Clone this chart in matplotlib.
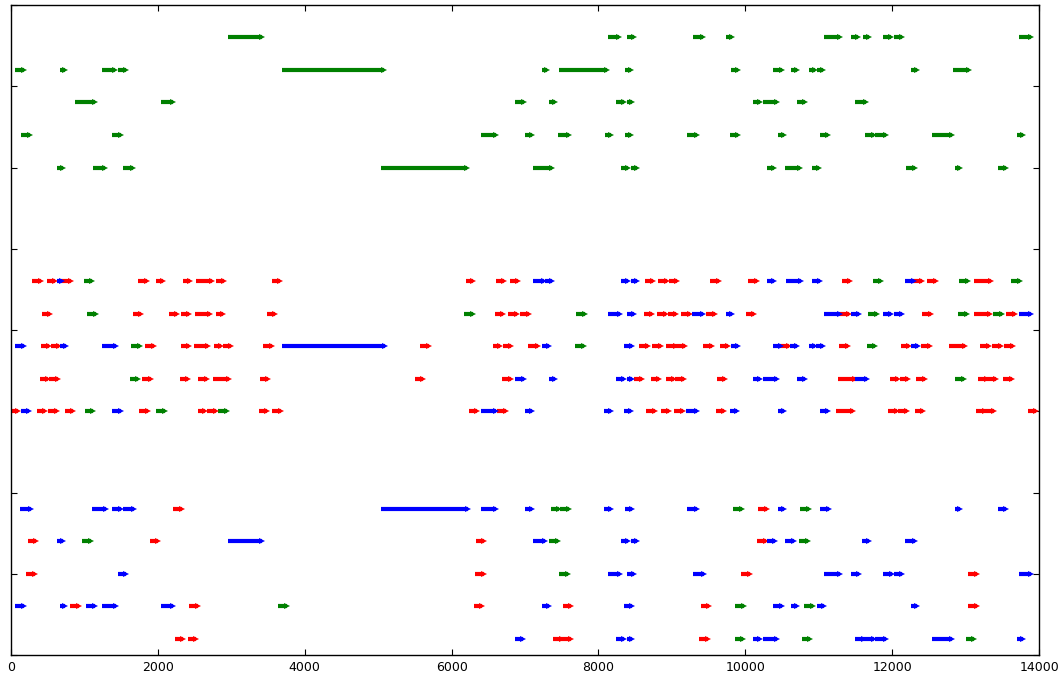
import matplotlib
matplotlib.use("Agg")
import matplotlib.pyplot as plt

# ---------------- data: (row, start, end) per series ----------------
ROW_LEVELS = [1, 3, 5, 7, 9, 15, 17, 19, 21, 23, 30, 32, 34, 36, 38]
X_TICKS = [0, 2000, 4000, 6000, 8000, 10000, 12000, 14000]

GREEN_SEGMENTS = [
    (38, 2960, 3420), (38, 8125, 8285), (38, 8395, 8485), (38, 9285, 9425), (38, 9730, 9825),
    (38, 11075, 11285), (38, 11440, 11535), (38, 11600, 11690), (38, 11875, 11990),
    (38, 12030, 12130), (38, 13730, 13890),
    (36, 55, 170), (36, 670, 740), (36, 1240, 1415), (36, 1450, 1570), (36, 3695, 5075),
    (36, 7225, 7305), (36, 7465, 8120), (36, 8355, 8445), (36, 9805, 9895), (36, 10380, 10500),
    (36, 10620, 10700), (36, 10865, 10955), (36, 10975, 11060), (36, 12250, 12340), (36, 12830, 13040),
    (34, 875, 1150), (34, 2045, 2200), (34, 6860, 6980), (34, 7325, 7410), (34, 8235, 8345),
    (34, 8395, 8455), (34, 10110, 10200), (34, 10235, 10430), (34, 10710, 10815), (34, 11495, 11645),
    (32, 135, 255), (32, 1375, 1500), (32, 6400, 6605), (32, 6995, 7095), (32, 7450, 7605),
    (32, 8085, 8175), (32, 8355, 8445), (32, 9200, 9335), (32, 9790, 9895), (32, 10440, 10520),
    (32, 11015, 11130), (32, 11630, 11750), (32, 11770, 11920), (32, 12540, 12820), (32, 13695, 13785),
    (30, 620, 705), (30, 1110, 1280), (30, 1520, 1660), (30, 5035, 6205), (30, 7115, 7365),
    (30, 8300, 8400), (30, 8440, 8520), (30, 10295, 10390), (30, 10545, 10745), (30, 10910, 11005),
    (30, 12185, 12305), (30, 12860, 12925), (30, 13440, 13555),
    (23, 990, 1105), (23, 11735, 11850), (23, 12915, 13035), (23, 13615, 13740),
    (21, 1040, 1155), (21, 6175, 6290), (21, 7690, 7810), (21, 11665, 11790), (21, 12895, 13025),
    (21, 13370, 13495),
    (19, 1635, 1750), (19, 7675, 7805), (19, 11650, 11770),
    (17, 1625, 1735), (17, 12860, 12980),
    (15, 1005, 1115), (15, 1980, 2090), (15, 2820, 2940),
    (9, 7355, 7465), (9, 7480, 7600), (9, 9830, 9955), (9, 10750, 10870),
    (7, 970, 1085), (7, 7330, 7455), (7, 10730, 10860),
    (5, 7465, 7585),
    (3, 3630, 3755), (3, 9865, 9985), (3, 10795, 10915),
    (1, 9855, 9970), (1, 10765, 10880), (1, 13000, 13110),
]

RED_SEGMENTS = [
    (23, 290, 405), (23, 490, 600), (23, 700, 810), (23, 1735, 1845), (23, 1970, 2075),
    (23, 2340, 2440), (23, 2525, 2730), (23, 2795, 2905), (23, 3555, 3660), (23, 6190, 6295),
    (23, 6610, 6710), (23, 6795, 6900), (23, 8635, 8745), (23, 8815, 8930), (23, 8960, 9075),
    (23, 9525, 9635), (23, 10035, 10155), (23, 11310, 11420), (23, 12300, 12410),
    (23, 12470, 12595), (23, 13120, 13345),
    (21, 425, 530), (21, 1660, 1770), (21, 2145, 2255), (21, 2320, 2430), (21, 2505, 2715),
    (21, 2785, 2890), (21, 3480, 3595), (21, 6585, 6700), (21, 6770, 6885), (21, 6930, 7050),
    (21, 8615, 8735), (21, 8795, 8920), (21, 8940, 9060), (21, 9130, 9245), (21, 9470, 9590),
    (21, 10005, 10120), (21, 11290, 11405), (21, 12405, 12530), (21, 13110, 13330), (21, 13545, 13670),
    (19, 405, 520), (19, 550, 655), (19, 1825, 1945), (19, 2310, 2430), (19, 2490, 2680),
    (19, 2760, 2865), (19, 2890, 2995), (19, 3435, 3550), (19, 5575, 5690), (19, 6560, 6665),
    (19, 6700, 6815), (19, 7045, 7170), (19, 8550, 8670), (19, 8730, 8855), (19, 8925, 9055),
    (19, 9055, 9175), (19, 9425, 9545), (19, 9650, 9770), (19, 10490, 10590), (19, 11280, 11400),
    (19, 12115, 12225), (19, 12390, 12515), (19, 12770, 12995), (19, 13200, 13320),
    (19, 13365, 13485), (19, 13520, 13640),
    (17, 390, 500), (17, 520, 640), (17, 1790, 1905), (17, 2295, 2410), (17, 2550, 2665),
    (17, 2750, 2975), (17, 3390, 3505), (17, 5495, 5610), (17, 6690, 6805), (17, 8485, 8595),
    (17, 8715, 8830), (17, 8920, 9035), (17, 9045, 9170), (17, 9615, 9725), (17, 11260, 11490),
    (17, 11970, 12085), (17, 12100, 12215), (17, 12325, 12440), (17, 13165, 13285),
    (17, 13295, 13410), (17, 13515, 13635),
    (15, 0, 95), (15, 355, 465), (15, 510, 620), (15, 740, 850), (15, 1745, 1860),
    (15, 2540, 2645), (15, 2675, 2790), (15, 3370, 3485), (15, 3560, 3670), (15, 6235, 6345),
    (15, 6620, 6735), (15, 8645, 8765), (15, 8845, 8960), (15, 9030, 9145), (15, 9595, 9705),
    (15, 11230, 11460), (15, 11945, 12060), (15, 12085, 12200), (15, 12310, 12425),
    (15, 13145, 13260), (15, 13270, 13390), (15, 13850, 13965),
    (9, 2210, 2325), (9, 10175, 10295),
    (7, 230, 345), (7, 1890, 2005), (7, 6335, 6445), (7, 10155, 10275),
    (5, 210, 330), (5, 6320, 6435), (5, 9940, 10060), (5, 13035, 13155),
    (3, 805, 930), (3, 2425, 2545), (3, 6300, 6410), (3, 7515, 7630), (3, 9390, 9510), (3, 13030, 13150),
    (1, 2230, 2340), (1, 2405, 2520), (1, 7385, 7505), (1, 7505, 7620), (1, 9370, 9485),
]

BLUE_SEGMENTS = [
    (23, 620, 700), (23, 7110, 7260), (23, 7265, 7365), (23, 8300, 8400), (23, 8440, 8525),
    (23, 10295, 10395), (23, 10550, 10755), (23, 10910, 11010), (23, 12180, 12300),
    (21, 8125, 8290), (21, 8395, 8490), (21, 9280, 9425), (21, 9730, 9825), (21, 11075, 11285),
    (21, 11440, 11550), (21, 11870, 11990), (21, 12030, 12130), (21, 13730, 13890),
    (19, 55, 180), (19, 665, 755), (19, 1240, 1425), (19, 3695, 5090), (19, 7225, 7320),
    (19, 8350, 8450), (19, 9800, 9895), (19, 10380, 10490), (19, 10610, 10705), (19, 10865, 10955),
    (19, 10965, 11060), (19, 12250, 12345),
    (17, 6860, 6980), (17, 7320, 7410), (17, 8235, 8345), (17, 8390, 8455), (17, 10105, 10200),
    (17, 10235, 10430), (17, 10705, 10815), (17, 11490, 11650),
    (15, 135, 250), (15, 1370, 1500), (15, 6400, 6605), (15, 7000, 7095), (15, 8080, 8165),
    (15, 8350, 8445), (15, 9195, 9335), (15, 9785, 9885), (15, 10440, 10520), (15, 11010, 11130),
    (9, 125, 265), (9, 1105, 1290), (9, 1370, 1500), (9, 1520, 1670), (9, 5035, 6220),
    (9, 6400, 6605), (9, 7000, 7095), (9, 8080, 8165), (9, 8355, 8450), (9, 9200, 9335),
    (9, 10440, 10525), (9, 11010, 11135), (9, 12855, 12925), (9, 13440, 13555),
    (7, 620, 710), (7, 2960, 3420), (7, 7115, 7270), (7, 8300, 8400), (7, 8440, 8530),
    (7, 10290, 10405), (7, 10545, 10660), (7, 11595, 11690), (7, 12180, 12305),
    (5, 1450, 1570), (5, 8125, 8295), (5, 8395, 8490), (5, 9285, 9435), (5, 11075, 11285),
    (5, 11440, 11550), (5, 11870, 11995), (5, 12030, 12130), (5, 13730, 13890),
    (3, 55, 180), (3, 665, 740), (3, 1025, 1150), (3, 1240, 1425), (3, 2040, 2200),
    (3, 7225, 7320), (3, 8350, 8450), (3, 10380, 10500), (3, 10615, 10700), (3, 10970, 11070),
    (3, 12250, 12340),
    (1, 6860, 6975), (1, 8235, 8345), (1, 8395, 8460), (1, 10110, 10205), (1, 10235, 10430),
    (1, 11495, 11620), (1, 11620, 11750), (1, 11770, 11920), (1, 12540, 12820), (1, 13695, 13785),
]

# ---------------- figure ----------------
fig = plt.figure(figsize=(10.62, 6.75), dpi=100, facecolor="white")
ax = fig.add_axes([0.0104, 0.0296, 0.9680, 0.9630])

series = [(GREEN_SEGMENTS, (0.0, 0.5, 0.0)),
          (RED_SEGMENTS, (1.0, 0.0, 0.0)),
          (BLUE_SEGMENTS, (0.0, 0.0, 1.0))]

for segs, col in series:
    for row, s, e in segs:
        ax.plot([s, e], [row, row], color=col, lw=3.0, solid_capstyle="butt",
                marker=">", markevery=[1], ms=4.2, mew=0, mfc=col)

ax.set_xlim(0, 14000)
ax.set_ylim(0, 40)
ax.set_xticks(X_TICKS)
ax.set_xticklabels([str(v) for v in X_TICKS])
ax.set_yticks(range(0, 41, 5))
ax.set_yticklabels([])
ax.tick_params(direction="in", length=4, width=0.8, top=True, right=True,
               labelsize=9, pad=4, colors="black")
ax.tick_params(axis="y", labelleft=False)
for sp in ax.spines.values():
    sp.set_linewidth(1.0)
    sp.set_color("black")

fig.savefig("out.png", dpi=100, facecolor="white")
